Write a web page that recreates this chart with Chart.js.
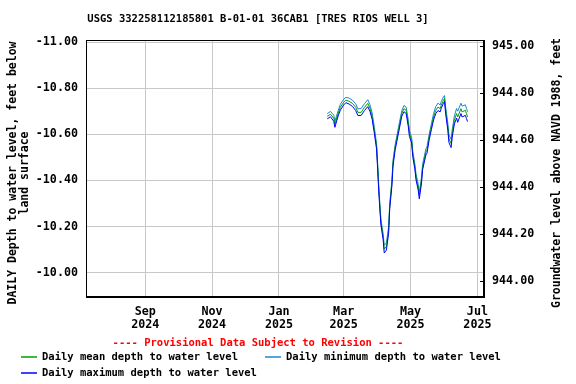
<!DOCTYPE html>
<html>
<head>
<meta charset="utf-8">
<script src="https://cdn.jsdelivr.net/npm/chart.js@4.4.1/dist/chart.umd.min.js"></script>
<style>
html, body { margin: 0; padding: 0; background: #fff; }
</style>
</head>
<body>
<canvas id="myChart" width="576" height="384"></canvas>
<script>
// day numbers counted from 2025-01-01
var days = [44, 47, 50, 51, 54, 56, 59, 61, 64, 67, 70, 72, 75, 78, 81, 83, 85, 87, 89, 90,
    91, 92, 93, 95, 96, 98, 100, 101, 103, 104, 106, 109, 112, 114, 116, 118, 119, 121, 122, 124,
    125, 127, 128, 130, 131, 134, 135, 137, 139, 141, 143, 145, 147, 148, 150, 151, 152, 154, 155, 157,
    158, 160, 162, 163, 166, 167, 170, 171, 172];

var meanDepth = [-10.678, -10.687, -10.669, -10.643, -10.691, -10.717, -10.739, -10.748, -10.743, -10.734,
    -10.717, -10.695, -10.695, -10.717, -10.734, -10.713, -10.678, -10.617, -10.548, -10.461,
    -10.366, -10.288, -10.218, -10.157, -10.101, -10.114, -10.184, -10.288, -10.388, -10.474,
    -10.545, -10.617, -10.690, -10.711, -10.704, -10.646, -10.603, -10.574, -10.516, -10.458,
    -10.415, -10.371, -10.335, -10.400, -10.458, -10.523, -10.531, -10.588, -10.632, -10.675,
    -10.704, -10.718, -10.711, -10.726, -10.748, -10.755, -10.704, -10.632, -10.581, -10.560,
    -10.603, -10.661, -10.690, -10.675, -10.711, -10.697, -10.704, -10.690, -10.675];

var minDepth = [-10.690, -10.699, -10.683, -10.657, -10.703, -10.730, -10.752, -10.760, -10.757, -10.748,
    -10.732, -10.710, -10.712, -10.733, -10.750, -10.728, -10.692, -10.630, -10.560, -10.474,
    -10.378, -10.300, -10.230, -10.170, -10.118, -10.130, -10.198, -10.300, -10.400, -10.487,
    -10.556, -10.630, -10.702, -10.725, -10.718, -10.660, -10.616, -10.586, -10.528, -10.470,
    -10.428, -10.383, -10.350, -10.413, -10.470, -10.537, -10.546, -10.600, -10.645, -10.690,
    -10.720, -10.735, -10.727, -10.742, -10.762, -10.768, -10.720, -10.648, -10.598, -10.578,
    -10.620, -10.680, -10.712, -10.700, -10.735, -10.722, -10.728, -10.712, -10.698];

var maxDepth = [-10.667, -10.676, -10.656, -10.630, -10.680, -10.705, -10.727, -10.737, -10.731, -10.721,
    -10.703, -10.681, -10.682, -10.703, -10.720, -10.699, -10.665, -10.604, -10.536, -10.449,
    -10.354, -10.276, -10.206, -10.143, -10.085, -10.098, -10.170, -10.276, -10.376, -10.462,
    -10.533, -10.605, -10.678, -10.698, -10.690, -10.632, -10.590, -10.562, -10.504, -10.446,
    -10.402, -10.358, -10.320, -10.388, -10.446, -10.510, -10.518, -10.576, -10.620, -10.662,
    -10.690, -10.703, -10.697, -10.712, -10.735, -10.742, -10.690, -10.618, -10.565, -10.542,
    -10.587, -10.645, -10.670, -10.652, -10.690, -10.675, -10.682, -10.668, -10.655];

var monthDays = [-122, -61, 0, 59, 120, 181];
var monthLabels = [['Sep', '2024'], ['Nov', '2024'], ['Jan', '2025'], ['Mar', '2025'], ['May', '2025'], ['Jul', '2025']];
var depthTicks = [-11.0, -10.8, -10.6, -10.4, -10.2, -10.0];
var elevTicks = [944.0, 944.2, 944.4, 944.6, 944.8, 945.0];

var chartTitle = 'USGS 332258112185801 B-01-01 36CAB1 [TRES RIOS WELL 3]';
var provisionalNote = '---- Provisional Data Subject to Revision ----';
var leftTitle = ['DAILY Depth to water level, feet below', 'land surface'];
var rightTitle = 'Groundwater level above NAVD 1988, feet';
var seriesNames = ['Daily mean depth to water level', 'Daily minimum depth to water level', 'Daily maximum depth to water level'];
var seriesColors = ['#00a000', '#1e88d0', '#0000ff'];

var mono = '"DejaVu Sans Mono", "Liberation Mono", monospace';
var tickFont = { family: mono, size: 11.7, weight: 'bold', lineHeight: 1.15 };

function toPoints(vals) {
    return days.map(function (d, i) { return { x: d, y: vals[i] }; });
}

var decor = {
    id: 'decor',
    afterDraw: function (chart) {
        var ctx = chart.ctx;
        var a = chart.chartArea;
        ctx.save();
        ctx.strokeStyle = '#000';
        ctx.lineWidth = 1;
        ctx.strokeRect(Math.round(a.left) + 0.5, Math.round(a.top) + 0.5,
            Math.round(a.right - a.left) - 1, Math.round(a.bottom - a.top) - 1);

        // small ticks on the right axis
        var r = chart.scales.yRight;
        elevTicks.forEach(function (v) {
            var y = Math.round(r.getPixelForValue(v)) + 0.5;
            ctx.beginPath();
            ctx.moveTo(a.right - 4, y);
            ctx.lineTo(a.right, y);
            ctx.stroke();
        });

        ctx.fillStyle = '#000';
        ctx.textAlign = 'center';
        ctx.textBaseline = 'middle';
        ctx.font = 'bold 10.5px ' + mono;
        ctx.fillText(chartTitle, 258, 19);

        // axis titles, both read bottom to top
        ctx.font = 'bold 11.5px ' + mono;
        ctx.save();
        ctx.translate(13, 173);
        ctx.rotate(-Math.PI / 2);
        ctx.fillText(leftTitle[0], 0, 0);
        ctx.fillText(leftTitle[1], 0, 12);
        ctx.restore();
        ctx.save();
        ctx.translate(557, 173);
        ctx.rotate(-Math.PI / 2);
        ctx.fillText(rightTitle, 0, 0);
        ctx.restore();

        ctx.font = 'bold 10.5px ' + mono;
        ctx.fillStyle = '#ff0000';
        ctx.fillText(provisionalNote, 258, 343);

        var items = [[21, 357], [265, 357], [21, 373]];
        ctx.textAlign = 'left';
        ctx.fillStyle = '#000';
        ctx.lineWidth = 1.5;
        items.forEach(function (p, i) {
            ctx.strokeStyle = seriesColors[i];
            ctx.beginPath();
            ctx.moveTo(p[0], p[1]);
            ctx.lineTo(p[0] + 16, p[1]);
            ctx.stroke();
            ctx.fillText(seriesNames[i], p[0] + 21, p[1]);
        });
        ctx.restore();
    }
};

var canvas = document.getElementById('myChart');
new Chart(canvas, {
    type: 'line',
    data: {
        datasets: [0, 1, 2].map(function (i) {
            return {
                label: seriesNames[i],
                data: toPoints([meanDepth, minDepth, maxDepth][i]),
                borderColor: seriesColors[i],
                borderWidth: 1,
                pointRadius: 0,
                tension: 0,
                fill: false,
                yAxisID: 'y',
                order: [2, 3, 1][i]
            };
        })
    },
    options: {
        responsive: false,
        animation: false,
        events: [],
        layout: { padding: { top: 40, left: 0, right: 0, bottom: 0 } },
        plugins: { legend: { display: false }, title: { display: false }, tooltip: { enabled: false } },
        scales: {
            x: {
                type: 'linear',
                min: -176,
                max: 187,
                afterFit: function (s) { s.height = 87; },
                afterBuildTicks: function (s) { s.ticks = monthDays.map(function (v) { return { value: v }; }); },
                ticks: {
                    autoSkip: false,
                    maxRotation: 0,
                    padding: 8,
                    color: '#000',
                    font: tickFont,
                    callback: function (v) { return monthLabels[monthDays.indexOf(v)]; }
                },
                grid: { color: '#c8c8c8', drawTicks: false },
                border: { color: '#000' }
            },
            y: {
                type: 'linear',
                position: 'left',
                reverse: true,
                min: -11.009,
                max: -9.894,
                afterFit: function (s) { s.width = 86; },
                afterBuildTicks: function (s) { s.ticks = depthTicks.map(function (v) { return { value: v }; }); },
                ticks: {
                    padding: 8,
                    color: '#000',
                    font: tickFont,
                    callback: function (v) { return v.toFixed(2); }
                },
                grid: { color: '#c8c8c8', drawTicks: false },
                border: { color: '#000' }
            },
            yRight: {
                type: 'linear',
                position: 'right',
                min: 943.933,
                max: 945.0255,
                afterFit: function (s) { s.width = 92; },
                afterBuildTicks: function (s) { s.ticks = elevTicks.map(function (v) { return { value: v }; }); },
                ticks: {
                    padding: 8,
                    color: '#000',
                    font: tickFont,
                    callback: function (v) { return v.toFixed(2); }
                },
                grid: { display: false, drawTicks: false },
                border: { color: '#000' }
            }
        }
    },
    plugins: [decor]
});
</script>
</body>
</html>
